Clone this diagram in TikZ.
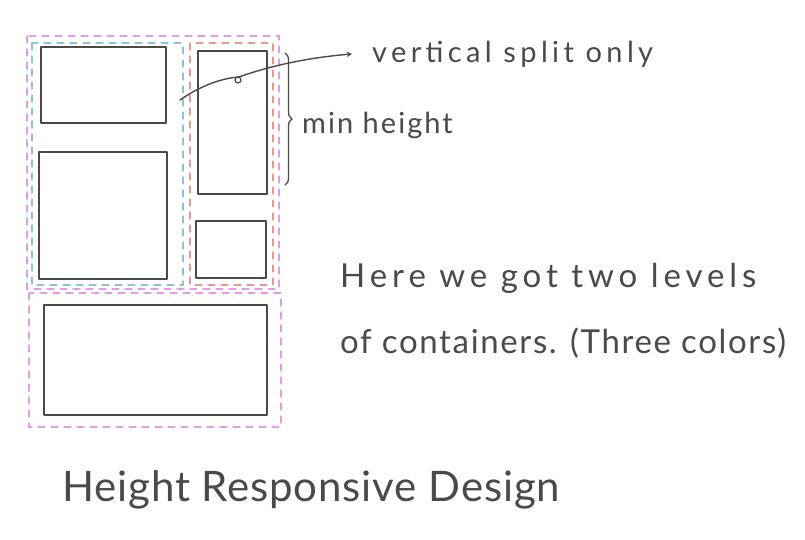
\documentclass[tikz,border=0pt]{standalone}
\usepackage{fontspec}
\setmainfont{Lato}
\usetikzlibrary{positioning,decorations.pathreplacing}
\definecolor{pen}{HTML}{4A4A4A}
\definecolor{levelone}{HTML}{E59CE6}
\definecolor{blueleft}{HTML}{8CC3DA}
\definecolor{redright}{HTML}{E8998D}
\newcommand{\handsize}[2]{\fontsize{#1}{#1}\selectfont\addfontfeature{LetterSpace=#2}}
\tikzset{
  box/.style={draw=pen, line width=1.8pt, line join=round},
  frame/.style={dashed, dash pattern=on 7pt off 6pt, line width=1.3pt},
  note/.style={text=pen, inner sep=0pt, anchor=west}
}
\begin{document}
\begin{tikzpicture}[x=1pt, y=-1pt, line cap=round, >=stealth]

  % Khung ảnh
  \useasboundingbox[fill=white] (0,0) rectangle (805,539);

  % Hai khung cấp một (màu tím)
  \draw[frame, levelone] (27,36) rectangle (279,289);
  \draw[frame, levelone] (29,293) rectangle (281,427);

  % Hai khung cấp hai (xanh và đỏ)
  \draw[frame, blueleft] (32,43) rectangle (183,285);
  \draw[frame, redright] (190,43) rectangle (273,285);

  % Các ô nội dung
  \draw[box] (41,47) rectangle (166,123);
  \draw[box] (39,152) rectangle (167,279);
  \draw[box] (198,51) rectangle (267,194);
  \draw[box] (196,221) rectangle (266,278);
  \draw[box] (44,305) rectangle (267,415);

  % Ghi chú
  \node[note, font=\handsize{29}{15}] (split) at (372,54) {vertical split only};
  \node[note, font=\handsize{29}{7}] (minh) at (302,125) {min height};
  \node[note, font=\handsize{33}{15}] (levels) at (340,278) {Here we got two levels};
  \node[note, font=\handsize{33}{5}, below=34pt of levels.south west, anchor=north west] (colors) {of containers. (Three colors)};
  \node[note, font=\handsize{42}{2}] (title) at (62,490) {Height Responsive Design};

  % Mũi tên chỉ ô bên phải
  \coordinate (tail) at (180,100);
  \coordinate (loop) at (239,77);
  \draw[pen, line width=1.4pt] (tail) .. controls (200,86) and (222,78) .. (loop);
  \draw[pen, line width=1.2pt] (238,80) circle (3);
  \draw[pen, line width=1.4pt, ->] (loop) .. controls (275,64) and (315,57) .. ([xshift=-20pt]split.west);

  % Ngoặc nhọn chiều cao tối thiểu
  \coordinate (braceTop) at (285,53);
  \coordinate (braceBot) at (285,185);
  \draw[pen, line width=1.3pt, decorate, decoration={brace, amplitude=7pt}] (braceTop) -- (braceBot);

\end{tikzpicture}
\end{document}
